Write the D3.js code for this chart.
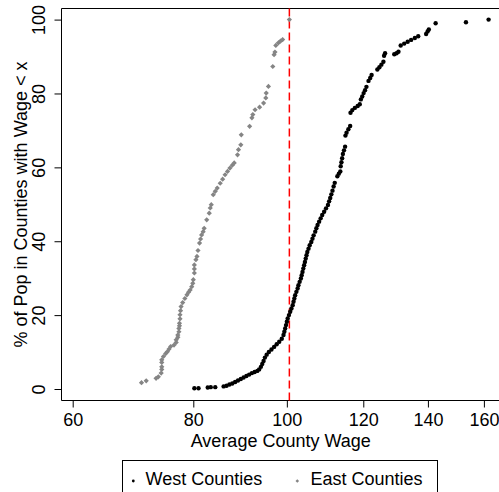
<!DOCTYPE html>
<html><head><meta charset="utf-8">
<script src="https://cdn.jsdelivr.net/npm/d3@7"></script>
<style>
body{margin:0;background:#fff}
svg{display:block}
text{font-family:"Liberation Sans",Arial,Helvetica,sans-serif;}
</style>
</head><body><svg id="c" width="499" height="492"></svg>
<script>
const xTicks=[60,80,100,120,140,160];
const yTicks=[0,20,40,60,80,100];
const refWage=100.6;
const seriesNames=["West Counties","East Counties"];
const xTitle="Average County Wage";
const yTitle="% of Pop in Counties with Wage < x";

// [average county wage, % of pop in counties with wage < x]
const westPoints=[
[80.2,0.2],[81.0,0.2],[82.8,0.4],[83.4,0.5],[84.3,0.5],
[86.0,0.7],[86.6,0.9],[87.2,1.2],[87.8,1.5],[88.4,1.9],[89.0,2.3],[89.6,2.7],[90.2,3.1],[90.8,3.5],[91.4,3.9],
[92.0,4.3],[92.6,4.6],[93.2,4.9],[93.6,5.3],[94.0,6.0],[94.3,6.8],[94.6,7.6],[94.9,8.5],[95.3,9.3],[95.8,10.0],
[96.4,10.7],[97.0,11.4],[97.6,12.1],[98.2,12.8],[98.8,13.6],[99.2,14.6],[99.4,15.5],[99.6,16.4],[99.8,17.3],
[100.0,18.2],[100.2,19.1],[100.5,20.0],[100.8,20.9],[101.1,21.8],[101.4,22.7],[101.6,23.6],[101.8,24.5],
[102.0,25.4],[102.3,26.3],[102.6,27.2],[102.8,28.1],[103.1,29.0],[103.4,29.9],[103.6,30.8],[103.8,31.7],
[104.0,32.6],[104.2,33.5],[104.4,34.4],[104.6,35.3],[104.8,36.2],[105.0,37.1],[105.3,38.0],[105.6,38.9],
[106.0,39.8],[106.3,40.7],[106.6,41.6],[107.0,42.6],[107.3,43.5],[107.6,44.4],[108.0,45.3],[108.4,46.2],
[108.8,47.1],[109.3,48.0],[109.8,48.9],[110.3,49.8],[110.6,50.8],[110.9,51.7],[111.2,52.7],[111.5,53.7],
[111.8,54.8],[112.1,55.8],[112.8,57.6],[113.2,58.3],[113.6,58.9],[113.7,60.3],[113.9,61.4],[114.1,62.5],
[114.3,63.6],[114.6,64.6],[114.9,65.6],[115.0,68.6],[115.3,69.4],[115.8,70.3],[116.3,71.2],
[116.4,74.8],[116.9,75.5],[117.6,76.1],[118.4,76.6],[119.0,77.1],[119.3,78.4],[119.7,79.2],[120.1,80.1],
[120.5,80.9],[120.9,81.8],[121.5,83.4],[122.0,84.2],[122.4,85.0],[124.1,86.5],[124.7,87.1],[125.3,87.8],
[125.9,88.6],[126.1,90.2],[126.4,90.9],[129.2,90.6],[129.9,90.9],[130.5,91.3],[131.2,93.0],[132.3,93.5],
[133.4,94.0],[134.5,94.5],[135.7,95.0],[136.8,95.5],[139.4,96.1],[139.9,96.8],[140.3,97.3],[142.6,99.0],
[153.3,99.3],[161.8,100]
];
const eastPoints=[
[70.7,1.7],[71.5,2.2],[73.2,2.9],[73.6,3.3],[74.1,4.3],[74.2,5.3],[74.2,6.0],[74.2,7.2],[74.2,7.9],
[74.5,8.8],[74.9,9.6],[75.2,10.1],[75.5,10.8],[75.8,11.5],[76.4,11.9],[76.8,12.6],[76.8,13.3],[77.1,14.0],
[77.1,14.6],[77.3,15.5],[77.3,16.4],[77.4,17.1],[77.4,17.8],[77.5,19.0],[77.5,20.1],[77.6,21.2],[77.7,22.3],
[78.0,23.4],[78.4,24.5],[78.8,25.5],[79.1,26.2],[79.4,26.8],[79.7,27.7],[79.9,28.6],[80.0,29.6],[80.2,31.4],
[80.2,32.5],[80.2,33.6],[80.5,35.0],[80.7,35.9],[80.9,37.5],[81.2,39.5],[81.4,40.6],[81.6,41.7],[81.9,42.6],
[82.1,43.5],[82.6,45.8],[83.1,47.6],[83.3,49.0],[83.5,49.9],[83.9,52.6],[84.3,53.5],[84.7,54.4],[85.3,55.7],
[85.8,56.8],[86.3,58.0],[86.8,58.9],[87.3,59.8],[87.8,60.6],[88.2,61.2],[88.9,63.4],[89.1,64.8],[89.6,66.1],
[89.7,68.8],[91.5,71.1],[92.0,73.4],[92.2,74.3],[92.7,75.6],[93.7,76.3],[94.6,77.4],[95.1,78.8],[95.2,80.1],
[95.7,81.9],[96.7,87.3],[97.0,90.5],[97.2,91.2],[97.4,93.0],[98.0,93.7],[98.5,94.2],[99.0,94.6],[100.6,100]
];

const svg=d3.select("#c");
const L=61.5,R=520,T=8.5,B=400.5;
const x=d3.scaleLog().domain([60,160]).range([72.7,483.9]);
const y=d3.scaleLinear().domain([0,100]).range([389,19.6]);
const FS=18;

// frame
svg.append("path").attr("d",`M${R},${T}H${L}V${B}H${R}`)
  .attr("fill","none").attr("stroke","#000").attr("stroke-width",1);

// reference line
svg.append("line").attr("x1",x(refWage)).attr("x2",x(refWage))
  .attr("y1",T).attr("y2",B)
  .attr("stroke","#ff0000").attr("stroke-width",1.5).attr("stroke-dasharray","8,4");

// x axis
const gx=svg.append("g").attr("transform",`translate(0,${B})`)
  .call(d3.axisBottom(x).tickValues(xTicks).tickFormat(d3.format("d")).tickSize(7).tickSizeOuter(0));
gx.select(".domain").remove();
gx.selectAll(".tick line").attr("stroke","#000");
gx.selectAll(".tick text").attr("y",25.5).attr("dy",null)
  .attr("font-size",FS).attr("font-family","'Liberation Sans',Arial,Helvetica,sans-serif").attr("fill","#000");

// y axis
const gy=svg.append("g").attr("transform",`translate(${L},0)`)
  .call(d3.axisLeft(y).tickValues(yTicks).tickFormat(d3.format("d")).tickSize(7).tickSizeOuter(0));
gy.select(".domain").remove();
gy.selectAll(".tick line").attr("stroke","#000");
gy.selectAll(".tick text").attr("x",0).attr("y",0).attr("dy",null)
  .attr("text-anchor","middle")
  .attr("transform",`translate(${45-L},0) rotate(-90)`)
  .attr("font-size",FS).attr("font-family","'Liberation Sans',Arial,Helvetica,sans-serif").attr("fill","#000");

// titles
svg.append("text").attr("x",(L+500)/2).attr("y",447).attr("text-anchor","middle")
  .attr("font-size",FS).text(xTitle);
svg.append("text").attr("transform",`translate(27,${(T+B)/2}) rotate(-90)`).attr("text-anchor","middle")
  .attr("font-size",FS).text(yTitle);

// points
const diamond=s=>`M0,${-s}L${s},0L0,${s}L${-s},0Z`;
svg.append("g").selectAll("circle").data(westPoints).join("circle")
  .attr("cx",d=>x(d[0])).attr("cy",d=>y(d[1])).attr("r",2.2).attr("fill","#000");
svg.append("g").selectAll("path").data(eastPoints).join("path")
  .attr("transform",d=>`translate(${x(d[0])},${y(d[1])})`).attr("d",diamond(2.6)).attr("fill","#858585");

// legend
const lg=svg.append("g");
lg.append("rect").attr("x",122.5).attr("y",460.5).attr("width",315).attr("height",60)
  .attr("fill","none").attr("stroke","#000");
lg.append("circle").attr("cx",133.3).attr("cy",481).attr("r",1.4).attr("fill","#000");
lg.append("text").attr("x",145.5).attr("y",485).attr("font-size",FS).text(seriesNames[0]);
lg.append("path").attr("transform","translate(297.3,481)").attr("d",diamond(1.8)).attr("fill","#858585");
lg.append("text").attr("x",310.5).attr("y",485).attr("font-size",FS).text(seriesNames[1]);
</script>
</body></html>
